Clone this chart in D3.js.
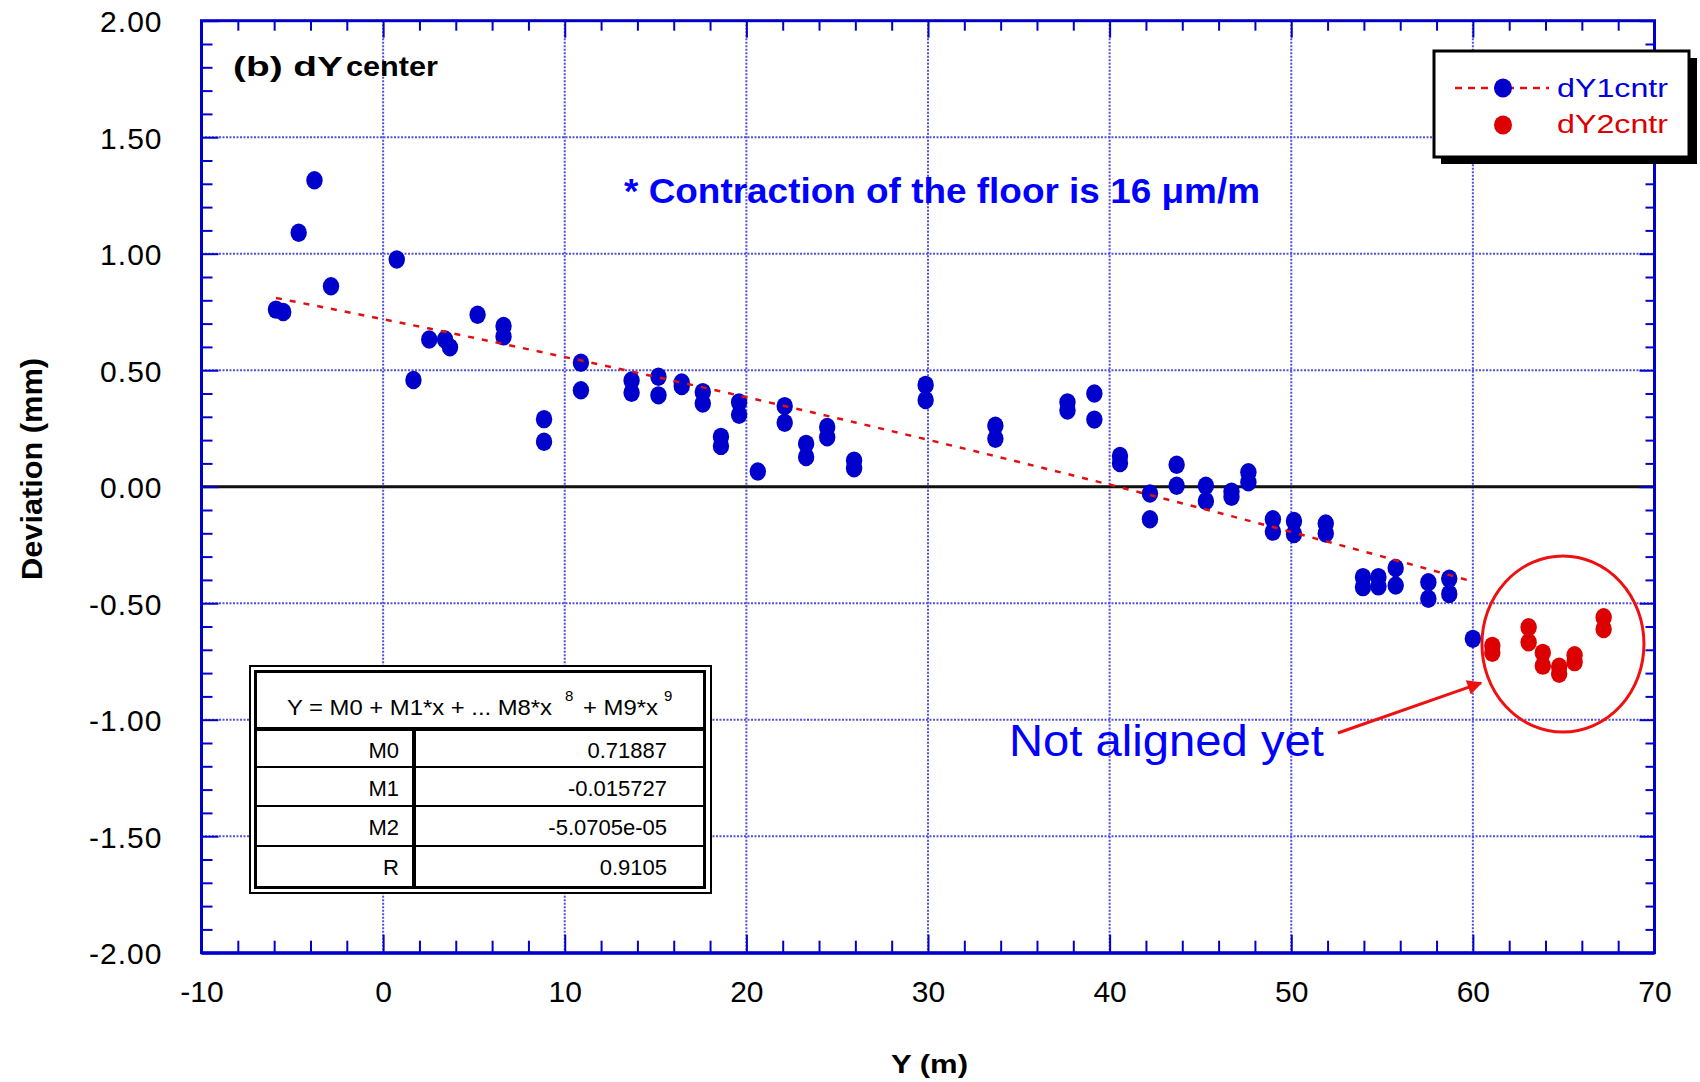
<!DOCTYPE html>
<html>
<head>
<meta charset="utf-8">
<script src="https://cdn.jsdelivr.net/npm/d3@7"></script>
<style>
  html, body { margin: 0; padding: 0; background: #fff; }
  svg { display: block; }
  text { font-family: "Liberation Sans", Arial, sans-serif; }
</style>
</head>
<body>
<svg id="chart" width="1700" height="1082"></svg>
<script>
// ---- data: centre deviation dY along the floor ----
const blueX = [-5.9, -5.5, -4.65, -3.78, -2.87, 0.75, 1.67, 2.54, 3.41, 3.68,
  5.2, 6.63, 6.63, 8.86, 8.86, 10.89, 10.89, 13.68, 13.68, 15.16, 15.16, 16.44, 16.44,
  17.6, 17.6, 18.6, 18.6, 19.6, 19.6, 20.63, 22.11, 22.11, 23.29, 23.29, 24.45, 24.45,
  25.93, 25.93, 29.87, 29.87, 33.71, 33.71, 37.68, 37.68, 39.16, 39.16, 40.57, 40.57,
  42.22, 42.22, 43.69, 43.69, 45.3, 45.3, 46.71, 46.71, 47.64, 47.64, 48.99, 48.99,
  50.15, 50.15, 51.9, 51.9, 53.95, 53.95, 54.8, 54.8, 55.75, 55.75, 57.55, 57.55,
  58.7, 58.7, 60.0];
const blueY = [0.76, 0.75, 1.09, 1.315, 0.86, 0.975, 0.458, 0.632, 0.632, 0.598,
  0.738, 0.69, 0.645, 0.29, 0.193, 0.532, 0.414, 0.456, 0.403, 0.472, 0.392, 0.447, 0.432,
  0.406, 0.357, 0.214, 0.175, 0.362, 0.309, 0.065, 0.346, 0.274, 0.184, 0.127, 0.256, 0.212,
  0.112, 0.079, 0.437, 0.372, 0.262, 0.206, 0.362, 0.327, 0.4, 0.288, 0.132, 0.102,
  -0.029, -0.14, 0.094, 0.004, 0.004, -0.061, -0.021, -0.043, 0.062, 0.019, -0.14, -0.193,
  -0.147, -0.203, -0.158, -0.201, -0.388, -0.431, -0.388, -0.428, -0.349, -0.424, -0.41, -0.481,
  -0.395, -0.46, -0.653];
const redX = [61.07, 61.07, 63.07, 63.07, 63.85, 63.85, 64.75, 64.75, 65.6, 65.6, 67.2, 67.2];
const redY = [-0.683, -0.713, -0.603, -0.668, -0.713, -0.768, -0.773, -0.803, -0.723, -0.753, -0.56, -0.611];

// polynomial fit of dY1cntr: Y = M0 + M1*x + M2*x^2
const fitCoef = [0.71887, -0.015727, -5.0705e-05];
const fitR = 0.9105;
const tableLabels = ["M0", "M1", "M2", "R"];
const tableValues = ["0.71887", "-0.015727", "-5.0705e-05", "0.9105"];

const xTicks = [-10, 0, 10, 20, 30, 40, 50, 60, 70];
const yTicks = [-2, -1.5, -1, -0.5, 0, 0.5, 1, 1.5, 2];
const seriesNames = ["dY1cntr", "dY2cntr"];

// ---- layout ----
const svg = d3.select("#chart");
const L = 201.5, R = 1654.5, T = 20.7, B = 952.7;
const x = d3.scaleLinear().domain([-10, 70]).range([L, R]);
const y = d3.scaleLinear().domain([-2, 2]).range([B, T]);

const BLUE = "#0000cc", RED = "#dd0000", AXIS = "#0000cc";

svg.append("rect").attr("width", 1700).attr("height", 1082).attr("fill", "#fff");

// grid
const grid = svg.append("g")
  .attr("stroke", "#3535d5").attr("stroke-width", 2)
  .attr("stroke-dasharray", "2 1.5").attr("opacity", 0.85);
grid.selectAll("line.gx").data(xTicks.slice(1, -1)).join("line")
  .attr("x1", d => x(d)).attr("x2", d => x(d)).attr("y1", T).attr("y2", B);
grid.selectAll("line.gy").data(yTicks.slice(1, -1)).join("line")
  .attr("y1", d => y(d)).attr("y2", d => y(d)).attr("x1", L).attr("x2", R);

// zero line
svg.append("line").attr("x1", L).attr("x2", R).attr("y1", y(0)).attr("y2", y(0))
  .attr("stroke", "#111").attr("stroke-width", 3);

// markers
const mk = svg.append("g");
mk.selectAll("ellipse.b").data(blueX.map((v, i) => [v, blueY[i]])).join("ellipse")
  .attr("cx", d => x(d[0])).attr("cy", d => y(d[1])).attr("rx", 8.2).attr("ry", 9.2)
  .attr("fill", BLUE);
mk.selectAll("ellipse.r").data(redX.map((v, i) => [v, redY[i]])).join("ellipse")
  .attr("cx", d => x(d[0])).attr("cy", d => y(d[1])).attr("rx", 8.2).attr("ry", 9.2)
  .attr("fill", RED);

// fit curve evaluated at the measured stations
const fitXs = Array.from(new Set(blueX)).sort((a, b) => a - b);
const fitPts = fitXs.map(v => [v, fitCoef[0] + fitCoef[1] * v + fitCoef[2] * v * v]);
svg.append("path").datum(fitPts)
  .attr("d", d3.line().x(d => x(d[0])).y(d => y(d[1])))
  .attr("fill", "none").attr("stroke", "#e01010").attr("stroke-width", 2.5)
  .attr("stroke-dasharray", "6 8");

// axes: ticks all point inward
function axisG(axis, tx, ty) {
  const g = svg.append("g").attr("transform", `translate(${tx},${ty})`).call(axis);
  g.select(".domain").remove();
  g.selectAll(".tick line").attr("stroke", AXIS).attr("stroke-width", 2);
  return g;
}
const xMinor = d3.range(-10, 70.01, 2).filter(v => v % 10 !== 0);
const yMinor = d3.range(-20, 20.01, 1).map(v => v / 10).filter(v => Math.abs(v * 2 - Math.round(v * 2)) > 1e-6);

const bx = axisG(d3.axisBottom(x).tickValues(xTicks).tickSize(-18).tickPadding(28).tickFormat(d => String(d)), 0, B);
bx.selectAll("text").attr("font-size", 30).attr("fill", "#000");
axisG(d3.axisBottom(x).tickValues(xMinor).tickSize(-12).tickFormat(""), 0, B);
axisG(d3.axisTop(x).tickValues(xTicks).tickSize(-17).tickFormat(""), 0, T);
axisG(d3.axisTop(x).tickValues(xMinor).tickSize(-10).tickFormat(""), 0, T);

const ly = axisG(d3.axisLeft(y).tickValues(yTicks).tickSize(-17).tickPadding(39).tickFormat(d => d.toFixed(2)), L, 0);
ly.selectAll("text").attr("font-size", 30).attr("fill", "#000").attr("letter-spacing", 1).attr("dy", "0.36em");
axisG(d3.axisLeft(y).tickValues(yMinor).tickSize(-11).tickFormat(""), L, 0);
axisG(d3.axisRight(y).tickValues(yTicks).tickSize(-15).tickFormat(""), R, 0);
axisG(d3.axisRight(y).tickValues(yMinor).tickSize(-9).tickFormat(""), R, 0);

// frame
svg.append("rect").attr("x", L).attr("y", T).attr("width", R - L).attr("height", B - T)
  .attr("fill", "none").attr("stroke", AXIS).attr("stroke-width", 3);
svg.append("line").attr("x1", L).attr("x2", R).attr("y1", B + 1).attr("y2", B + 1)
  .attr("stroke", AXIS).attr("stroke-width", 2);

// axis titles
svg.append("text").attr("transform", "translate(41.5,469) rotate(-90)")
  .attr("text-anchor", "middle").attr("font-size", 30).attr("font-weight", "bold")
  .attr("textLength", 222).attr("lengthAdjust", "spacingAndGlyphs").text("Deviation (mm)");
svg.append("text").attr("x", 891).attr("y", 1073)
  .attr("font-size", 26).attr("font-weight", "bold")
  .attr("textLength", 77).attr("lengthAdjust", "spacingAndGlyphs").text("Y (m)");

// panel title
svg.append("text").attr("x", 233).attr("y", 76).attr("font-size", 28).attr("font-weight", "bold")
  .attr("textLength", 110).attr("lengthAdjust", "spacingAndGlyphs").text("(b) dY");
svg.append("text").attr("x", 346).attr("y", 76).attr("font-size", 27).attr("font-weight", "bold")
  .attr("textLength", 92).attr("lengthAdjust", "spacingAndGlyphs").text("center");

// note
svg.append("text").attr("x", 624).attr("y", 203).attr("font-size", 35).attr("font-weight", "bold")
  .attr("fill", "#0000ff").attr("textLength", 636).attr("lengthAdjust", "spacingAndGlyphs")
  .text("* Contraction of the floor is 16 \u03bcm/m");

// fit table
const tb = svg.append("g");
tb.append("rect").attr("x", 250).attr("y", 666).attr("width", 461).attr("height", 227)
  .attr("fill", "#fff").attr("stroke", "#000").attr("stroke-width", 2);
tb.append("rect").attr("x", 255.5).attr("y", 671.5).attr("width", 449).attr("height", 216)
  .attr("fill", "none").attr("stroke", "#000").attr("stroke-width", 3);
tb.append("line").attr("x1", 255).attr("x2", 705).attr("y1", 729).attr("y2", 729)
  .attr("stroke", "#000").attr("stroke-width", 4);
const rowTop = [729, 767, 806, 846, 888];
tb.selectAll("line.row").data(rowTop.slice(1, -1)).join("line")
  .attr("x1", 255).attr("x2", 705).attr("y1", d => d).attr("y2", d => d)
  .attr("stroke", "#000").attr("stroke-width", 2);
tb.append("line").attr("x1", 414).attr("x2", 414).attr("y1", 729).attr("y2", 888)
  .attr("stroke", "#000").attr("stroke-width", 4);
tb.append("text").attr("x", 287).attr("y", 715).attr("font-size", 22)
  .attr("textLength", 265).attr("lengthAdjust", "spacingAndGlyphs").text("Y = M0 + M1*x + ... M8*x");
tb.append("text").attr("x", 565).attr("y", 701).attr("font-size", 15).text("8");
tb.append("text").attr("x", 583).attr("y", 715).attr("font-size", 22)
  .attr("textLength", 75).attr("lengthAdjust", "spacingAndGlyphs").text("+ M9*x");
tb.append("text").attr("x", 664).attr("y", 701).attr("font-size", 15).text("9");
tb.selectAll("text.lab").data(tableLabels).join("text")
  .attr("x", 399).attr("y", (d, i) => rowTop[i] + 29).attr("text-anchor", "end")
  .attr("font-size", 22).text(d => d);
tb.selectAll("text.val").data(tableValues).join("text")
  .attr("x", 667).attr("y", (d, i) => rowTop[i] + 29).attr("text-anchor", "end")
  .attr("font-size", 22).text(d => d);

// legend
const lg = svg.append("g");
lg.append("rect").attr("x", 1441).attr("y", 58).attr("width", 256).attr("height", 106).attr("fill", "#000");
lg.append("rect").attr("x", 1434).attr("y", 51).attr("width", 255).attr("height", 106)
  .attr("fill", "#fff").attr("stroke", "#000").attr("stroke-width", 3);
lg.append("line").attr("x1", 1455).attr("x2", 1549).attr("y1", 88).attr("y2", 88)
  .attr("stroke", "#e01010").attr("stroke-width", 2.5).attr("stroke-dasharray", "7 6");
lg.append("ellipse").attr("cx", 1503).attr("cy", 88).attr("rx", 9).attr("ry", 9.5).attr("fill", BLUE);
lg.append("ellipse").attr("cx", 1503).attr("cy", 125).attr("rx", 9).attr("ry", 9.5).attr("fill", RED);
lg.selectAll("text").data(seriesNames).join("text")
  .attr("x", 1557).attr("y", (d, i) => 97 + i * 36).attr("font-size", 25)
  .attr("fill", (d, i) => i ? RED : "#0000dd")
  .attr("textLength", 111).attr("lengthAdjust", "spacingAndGlyphs").text(d => d);

// annotation: last stations not yet aligned
svg.append("ellipse").attr("cx", x(64.96)).attr("cy", y(-0.675))
  .attr("rx", x(64.96) - x(60.5)).attr("ry", y(-1.053) - y(-0.675))
  .attr("fill", "none").attr("stroke", "#ee1111").attr("stroke-width", 3);
const defs = svg.append("defs");
defs.append("marker").attr("id", "arrowHead").attr("viewBox", "0 0 10 10")
  .attr("refX", 9).attr("refY", 5).attr("markerWidth", 7).attr("markerHeight", 5)
  .attr("markerUnits", "strokeWidth").attr("orient", "auto")
  .append("path").attr("d", "M0,0L10,5L0,10z").attr("fill", "#ee1111");
svg.append("line").attr("x1", x(52.57)).attr("y1", y(-1.057)).attr("x2", x(60.45)).attr("y2", y(-0.842))
  .attr("stroke", "#ee1111").attr("stroke-width", 3).attr("marker-end", "url(#arrowHead)");
svg.append("text").attr("x", 1009).attr("y", 756).attr("font-size", 45).attr("fill", "#0000ff")
  .attr("textLength", 315).attr("lengthAdjust", "spacingAndGlyphs").text("Not aligned yet");
</script>
</body>
</html>
